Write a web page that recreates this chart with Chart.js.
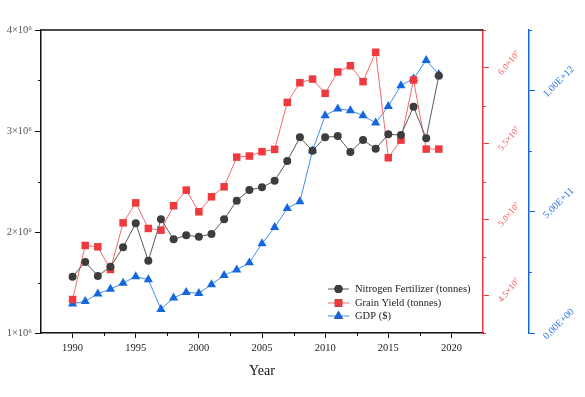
<!DOCTYPE html>
<html>
<head>
<meta charset="utf-8">
<script src="https://cdn.jsdelivr.net/npm/chart.js@4.4.1/dist/chart.umd.min.js"></script>
<style>
  html, body { margin: 0; padding: 0; background: #fff; }
  #wrap { width: 585px; height: 397px; }
</style>
</head>
<body>
<div id="wrap"><canvas id="myChart" width="585" height="397"></canvas></div>
<script>
// data
var years = [1990, 1991, 1992, 1993, 1994, 1995, 1996, 1997, 1998, 1999,
  2000, 2001, 2002, 2003, 2004, 2005, 2006, 2007, 2008, 2009,
  2010, 2011, 2012, 2013, 2014, 2015, 2016, 2017, 2018, 2019];

// tonnes
var nitrogen = [1.557e6, 1.703e6, 1.564e6, 1.657e6, 1.848e6, 2.086e6, 1.716e6, 2.126e6, 1.928e6, 1.967e6,
  1.954e6, 1.980e6, 2.126e6, 2.310e6, 2.416e6, 2.442e6, 2.508e6, 2.703e6, 2.937e6, 2.805e6,
  2.937e6, 2.950e6, 2.792e6, 2.911e6, 2.825e6, 2.967e6, 2.960e6, 3.241e6, 2.927e6, 3.548e6];

// tonnes
var grain = [4.471e7, 4.828e7, 4.819e7, 4.669e7, 4.977e7, 5.109e7, 4.940e7, 4.929e7, 5.090e7, 5.193e7,
  5.050e7, 5.149e7, 5.215e7, 5.411e7, 5.418e7, 5.447e7, 5.462e7, 5.772e7, 5.902e7, 5.926e7,
  5.832e7, 5.973e7, 6.014e7, 5.909e7, 6.103e7, 5.407e7, 5.523e7, 5.920e7, 5.464e7, 5.464e7];

// dollars
var gdp = [1.20e11, 1.31e11, 1.62e11, 1.81e11, 2.06e11, 2.33e11, 2.20e11, 0.98e11, 1.45e11, 1.68e11,
  1.64e11, 2.00e11, 2.38e11, 2.61e11, 2.90e11, 3.69e11, 4.36e11, 5.14e11, 5.42e11, 7.52e11,
  8.97e11, 9.25e11, 9.18e11, 8.97e11, 8.67e11, 9.35e11, 1.021e12, 1.049e12, 1.125e12, 1.067e12];

var seriesNames = ['Nitrogen Fertilizer (tonnes)', 'Grain Yield (tonnes)', 'GDP ($)'];

// major tick values
var xTicks = [1990, 1995, 2000, 2005, 2010, 2015, 2020];
var nTicks = [1e6, 2e6, 3e6, 4e6];
var gTicks = [4.5e7, 5.0e7, 5.5e7, 6.0e7];
var dTicks = [0, 5e11, 1e12];

// minor tick values
var xMinor = [1992.5, 1997.5, 2002.5, 2007.5, 2012.5, 2017.5];
var nMinor = [1.5e6, 2.5e6, 3.5e6];
var gMinor = [4.25e7, 4.75e7, 5.25e7, 5.75e7, 6.25e7];
var dMinor = [2.5e11, 7.5e11, 1.25e12];

var serif = 'Liberation Serif, Times New Roman, serif';
var RED = '#f0393c';
var BLUE = '#1567dd';
var GREY = '#3d3d3d';

function pts(vals) {
  return years.map((yr, i) => ({ x: yr, y: vals[i] }));
}

function fixTicks(list) {
  return s => { s.ticks = list.map(v => ({ value: v })); };
}

function sciE(v) {
  if (v === 0) return '0.00E+00';
  var e = Math.floor(Math.log10(v));
  var m = v / Math.pow(10, e);
  return m.toFixed(2) + 'E+' + (e < 10 ? '0' + e : e);
}

// minor ticks, top border and legend
const extras = {
  id: 'extras',
  afterDraw(chart) {
    const c = chart.ctx;
    const a = chart.chartArea;
    const sx = chart.scales.x, sy = chart.scales.y, sg = chart.scales.y1, sd = chart.scales.y2;
    c.save();
    c.lineWidth = 1.5;
    // top frame line
    c.strokeStyle = '#111';
    c.beginPath();
    c.moveTo(a.left, a.top);
    c.lineTo(a.right, a.top);
    c.stroke();

    c.lineWidth = 1;
    c.beginPath();
    xMinor.forEach(v => { const p = Math.round(sx.getPixelForValue(v)) + 0.5; c.moveTo(p, a.bottom); c.lineTo(p, a.bottom + 3); });
    nMinor.forEach(v => { const p = Math.round(sy.getPixelForValue(v)) + 0.5; c.moveTo(a.left, p); c.lineTo(a.left - 3, p); });
    c.stroke();
    c.strokeStyle = RED;
    c.beginPath();
    gMinor.forEach(v => { const p = Math.round(sg.getPixelForValue(v)) + 0.5; c.moveTo(sg.left, p); c.lineTo(sg.left + 3, p); });
    c.stroke();
    c.strokeStyle = BLUE;
    c.beginPath();
    dMinor.forEach(v => { const p = Math.round(sd.getPixelForValue(v)) + 0.5; c.moveTo(sd.left, p); c.lineTo(sd.left + 3, p); });
    c.stroke();

    // legend
    const rows = [289, 303, 316];
    c.font = '10.5px ' + serif;
    c.textBaseline = 'middle';
    chart.data.datasets.forEach((ds, i) => {
      const y = rows[i];
      c.strokeStyle = ds.borderColor;
      c.lineWidth = 1;
      c.beginPath();
      c.moveTo(328, y);
      c.lineTo(349, y);
      c.stroke();
      Chart.helpers.drawPoint(c, {
        pointStyle: ds.pointStyle, radius: ds.pointRadius, rotation: 0, borderWidth: 0
      }, 338.5, y);
      c.fillStyle = ds.pointBackgroundColor;
      c.fill();
      c.fillStyle = '#1a1a1a';
      c.fillText(ds.label, 355, y + 0.5);
    });
    c.restore();
  }
};

const ctx = document.getElementById('myChart');
const myChart = new Chart(ctx, {
  type: 'line',
  data: {
    datasets: [{
      label: seriesNames[0],
      data: pts(nitrogen),
      yAxisID: 'y',
      borderColor: '#5a5a5a',
      borderWidth: 1,
      pointStyle: 'circle',
      pointRadius: 4,
      pointBackgroundColor: GREY,
      pointBorderColor: GREY,
      pointBorderWidth: 0
    }, {
      label: seriesNames[1],
      data: pts(grain),
      yAxisID: 'y1',
      borderColor: '#f36a6a',
      borderWidth: 1,
      pointStyle: 'rect',
      pointRadius: 5.3,
      pointBackgroundColor: RED,
      pointBorderColor: RED,
      pointBorderWidth: 0
    }, {
      label: seriesNames[2],
      data: pts(gdp),
      yAxisID: 'y2',
      borderColor: '#3f8cf0',
      borderWidth: 1,
      pointStyle: 'triangle',
      pointRadius: 5.3,
      pointBackgroundColor: BLUE,
      pointBorderColor: BLUE,
      pointBorderWidth: 0
    }]
  },
  options: {
    responsive: false,
    animation: false,
    devicePixelRatio: 1,
    layout: { padding: { top: 30, left: 0, right: 0, bottom: 0 } },
    plugins: {
      legend: { display: false },
      tooltip: { enabled: false }
    },
    scales: {
      x: {
        type: 'linear',
        position: 'bottom',
        min: 1987.5,
        max: 2022.5,
        afterBuildTicks: fixTicks(xTicks),
        afterFit: s => { s.height = 64; },
        grid: { drawOnChartArea: false, tickLength: 5, tickColor: '#111', tickWidth: 1 },
        border: { color: '#111', width: 1.5 },
        ticks: {
          padding: 4,
          color: '#222',
          font: { family: serif, size: 10.5 },
          callback: v => String(v)
        },
        title: {
          display: true,
          text: 'Year',
          color: '#111',
          font: { family: serif, size: 14 },
          padding: { top: 4, bottom: 17 }
        }
      },
      y: {
        position: 'left',
        min: 1e6,
        max: 4e6,
        afterBuildTicks: fixTicks(nTicks),
        afterFit: s => { s.width = 41; },
        grid: { drawOnChartArea: false, tickLength: 6, tickColor: '#111', tickWidth: 1 },
        border: { color: '#111', width: 1.5 },
        ticks: {
          padding: 3,
          color: '#555',
          font: { family: serif, size: 10.5 },
          callback: v => (v / 1e6) + '×10⁶'
        }
      },
      y1: {
        position: 'right',
        weight: 0,
        min: 4.25e7,
        max: 6.25e7,
        afterBuildTicks: fixTicks(gTicks),
        afterFit: s => { s.width = 46; },
        grid: { drawOnChartArea: false, tickLength: 6, tickColor: RED, tickWidth: 1 },
        border: { color: RED, width: 1.5 },
        ticks: {
          padding: 11,
          minRotation: 50,
          maxRotation: 50,
          labelOffset: 6,
          color: '#f25555',
          font: { family: serif, size: 9 },
          callback: v => (v / 1e7).toFixed(1) + '×10⁷'
        }
      },
      y2: {
        position: 'right',
        weight: 1,
        min: 0,
        max: 1.25e12,
        afterBuildTicks: fixTicks(dTicks),
        afterFit: s => { s.width = 56; },
        grid: { drawOnChartArea: false, tickLength: 6, tickColor: BLUE, tickWidth: 1 },
        border: { color: BLUE, width: 1.5 },
        ticks: {
          padding: 10,
          minRotation: 45,
          maxRotation: 45,
          labelOffset: 5,
          color: '#2a72dc',
          font: { family: serif, size: 10 },
          callback: v => sciE(v)
        }
      }
    }
  },
  plugins: [extras]
});
</script>
</body>
</html>
